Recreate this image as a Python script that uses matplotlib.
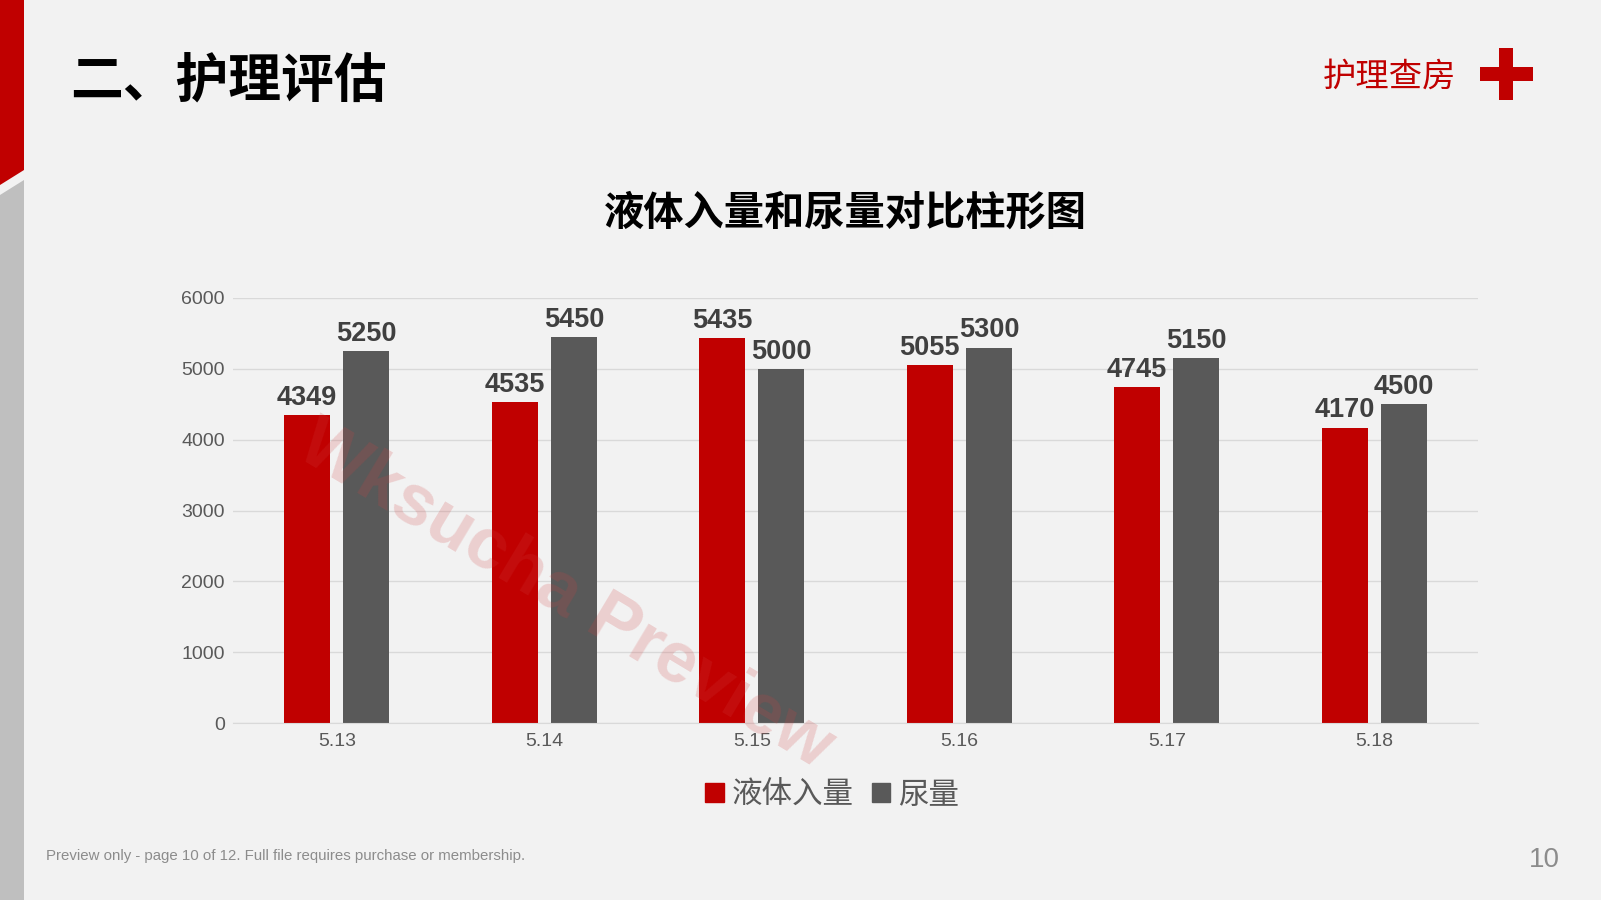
import numpy as np
import matplotlib
matplotlib.use("Agg")
import matplotlib.pyplot as plt
from matplotlib.patches import Rectangle, Polygon, Patch

plt.rcParams['font.family'] = ['Liberation Sans', 'Noto Sans CJK SC', 'DejaVu Sans']

# data
dates = ['5.13', '5.14', '5.15', '5.16', '5.17', '5.18']
intake = [4349, 4535, 5435, 5055, 4745, 4170]
urine = [5250, 5450, 5000, 5300, 5150, 4500]
series_names = ['液体入量', '尿量']
y_ticks = [0, 1000, 2000, 3000, 4000, 5000, 6000]

RED = '#C00000'
GRAY = '#595959'
BG = '#F2F2F2'
CJK = ['Noto Sans CJK SC', 'DejaVu Sans']

fig = plt.figure(figsize=(16.01, 9), dpi=100)
fig.patch.set_facecolor(BG)

# decoration layer in pixel coords
deco = fig.add_axes([0, 0, 1, 1], zorder=0)
deco.set_xlim(0, 1601)
deco.set_ylim(900, 0)
deco.axis('off')
deco.add_patch(Polygon([(0, 0), (24, 0), (24, 170), (0, 185)], closed=True, color=RED, lw=0))
deco.add_patch(Polygon([(0, 195), (24, 180), (24, 900), (0, 900)], closed=True, color='#BFBFBF', lw=0))
# red cross
deco.add_patch(Rectangle((1499, 48), 14, 52, color=RED, lw=0))
deco.add_patch(Rectangle((1480, 67), 53, 14, color=RED, lw=0))

deco.text(70, 82, '二、护理评估', family=CJK, fontsize=38, fontweight='bold',
          color='black', va='center', ha='left')
deco.text(1456, 77, '护理查房', family=CJK, fontsize=24, color=RED, va='center', ha='right')
deco.text(845, 213, '液体入量和尿量对比柱形图', family=CJK, fontsize=29, fontweight='bold',
          color='black', va='center', ha='center')
deco.text(46, 856, 'Preview only - page 10 of 12. Full file requires purchase or membership.',
          fontsize=10.8, color='#8C8C8C', va='center', ha='left')
deco.text(1560, 860, '10', fontsize=20, color='#8C8C8C', va='center', ha='right')

# chart
ax = fig.add_axes([233/1601, 177/900, 1245/1601, 425/900], zorder=1)
ax.set_facecolor('none')
x = np.arange(len(dates))
w = 0.222
off = 0.143
b1 = ax.bar(x - off, intake, w, color=RED, zorder=2)
b2 = ax.bar(x + off, urine, w, color=GRAY, zorder=2)
for bars, vals in ((b1, intake), (b2, urine)):
    for b, v in zip(bars, vals):
        ax.annotate(str(v), (b.get_x() + b.get_width()/2, v), xytext=(0, 3),
                    textcoords='offset points', ha='center', va='bottom',
                    fontsize=19.5, fontweight='bold', color='#404040')

ax.set_xlim(-0.5, len(dates) - 0.5)
ax.set_ylim(0, 6000)
ax.set_yticks(y_ticks)
ax.set_xticks(x)
ax.set_xticklabels(dates)
ax.tick_params(axis='both', length=0, labelsize=14, labelcolor=GRAY)
ax.tick_params(axis='y', pad=6)
ax.tick_params(axis='x', pad=7)
ax.grid(axis='y', color='#D9D9D9', lw=1, zorder=0)
for s in ['top', 'right', 'left']:
    ax.spines[s].set_visible(False)
ax.spines['bottom'].set_color('#D9D9D9')

handles = [Patch(color=RED), Patch(color=GRAY)]
fig.legend(handles, series_names, loc='center', bbox_to_anchor=(832/1601, 1 - 795/900),
           ncol=2, frameon=False, prop={'family': CJK, 'size': 22},
           labelcolor=GRAY, handlelength=0.6, handleheight=0.6,
           handletextpad=0.25, columnspacing=0.6)

# watermark on top
fig.text(566/1601, 1 - 596/900, 'Wksucha Preview', fontsize=52, color='#D04040', alpha=0.2,
         rotation=-31, ha='center', va='center', fontweight='bold', zorder=10)

fig.savefig('out.png', dpi=100, facecolor=BG)
